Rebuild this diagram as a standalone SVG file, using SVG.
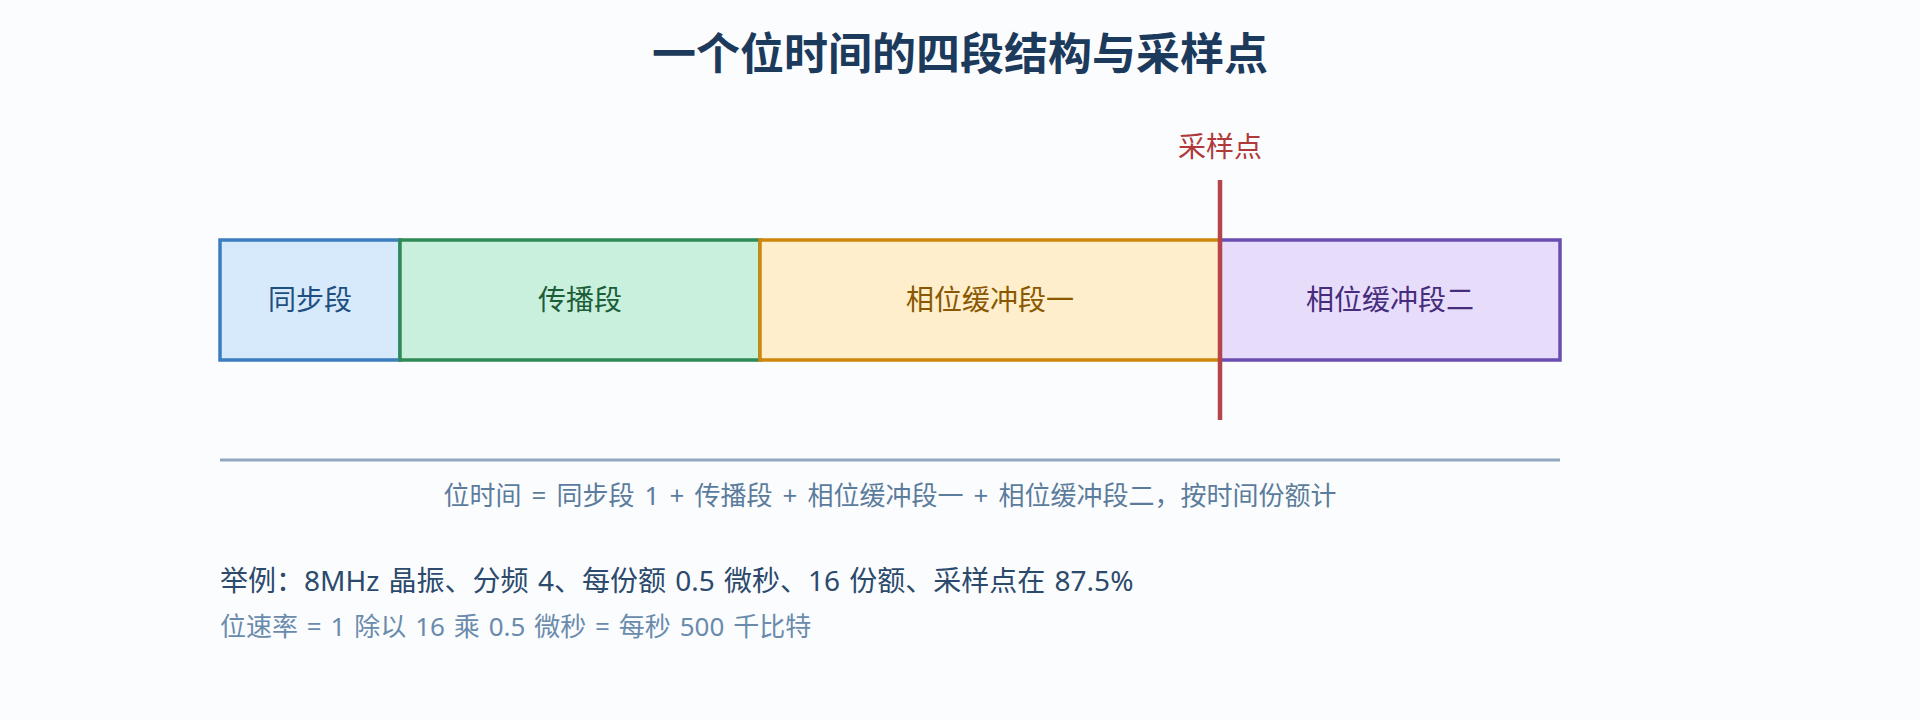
<svg xmlns="http://www.w3.org/2000/svg" width="1920" height="720" viewBox="0 0 1920 720">
  <style>
    text { font-family: "Noto Sans CJK SC", "Noto Sans", sans-serif; }
    .body { font-family: "Noto Sans", "Noto Sans CJK SC", sans-serif; }
    .title { font-size: 44px; font-weight: 700; fill: #1c3a5c; text-anchor: middle; }
    .seg { stroke-width: 3.5; }
    .lbl { font-size: 28px; text-anchor: middle; }
    .formula { font-size: 26px; fill: #5b7c9c; text-anchor: middle; word-spacing: 3.3px; }
    .ex1 { font-size: 28px; fill: #2c4a6b; word-spacing: 2px; }
    .ex2 { font-size: 26px; fill: #6a8bac; word-spacing: 2.1px; }
  </style>
  <rect x="0" y="0" width="1920" height="720" fill="#fbfcfe"/>
  <text class="title" x="960" y="70">一个位时间的四段结构与采样点</text>

  <g id="seg-sync">
    <rect class="seg" x="220" y="240" width="180" height="120" fill="#d7eafc" stroke="#3c7dbf"/>
    <text class="lbl" x="310" y="310" fill="#1f4f80">同步段</text>
  </g>
  <g id="seg-prop">
    <rect class="seg" x="400" y="240" width="360" height="120" fill="#c9f0dc" stroke="#2e8a57"/>
    <text class="lbl" x="580" y="310" fill="#1d5e3a">传播段</text>
  </g>
  <g id="seg-ps1">
    <rect class="seg" x="760" y="240" width="460" height="120" fill="#feeecc" stroke="#cc870c"/>
    <text class="lbl" x="990" y="310" fill="#8a5800">相位缓冲段一</text>
  </g>
  <g id="seg-ps2">
    <rect class="seg" x="1220" y="240" width="340" height="120" fill="#e7ddfa" stroke="#6b4db0"/>
    <text class="lbl" x="1390" y="310" fill="#452c7c">相位缓冲段二</text>
  </g>

  <g id="sample-point">
    <line x1="1220" y1="180" x2="1220" y2="420" stroke="#b5454a" stroke-width="4.5"/>
    <text x="1220" y="157" font-size="28" fill="#b03a3a" text-anchor="middle">采样点</text>
  </g>

  <g id="connectors">
    <line x1="220" y1="460" x2="1560" y2="460" stroke="#8fa7bf" stroke-width="3"/>
  </g>

  <text class="body formula" x="890" y="505">位时间 = 同步段 1 + 传播段 + 相位缓冲段一 + 相位缓冲段二，按时间份额计</text>
  <text class="body ex1" x="220" y="591">举例：8MHz 晶振、分频 4、每份额 0.5 微秒、16 份额、采样点在 87.5%</text>
  <text class="body ex2" x="220" y="636">位速率 = 1 除以 16 乘 0.5 微秒 = 每秒 500 千比特</text>
</svg>
